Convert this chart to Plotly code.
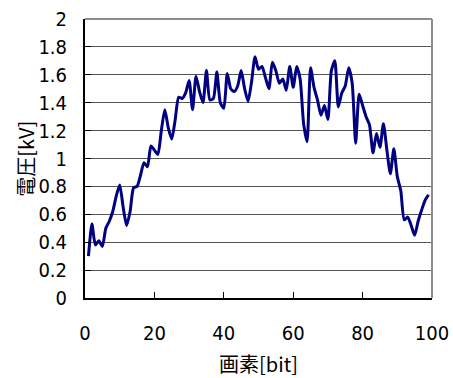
import plotly.graph_objects as go

# pixel index along the sensor line
pixels = list(range(1, 100))

# measured voltage per pixel [kV]
voltage = [
    0.30, 0.53, 0.38, 0.41, 0.37, 0.50, 0.55, 0.62, 0.73, 0.81,
    0.65, 0.52, 0.62, 0.79, 0.80, 0.88, 0.97, 0.94, 1.09, 1.06,
    1.03, 1.20, 1.35, 1.22, 1.14, 1.28, 1.44, 1.43, 1.47, 1.56,
    1.35, 1.59, 1.48, 1.40, 1.63, 1.42, 1.43, 1.62, 1.40, 1.36,
    1.61, 1.50, 1.48, 1.52, 1.63, 1.50, 1.41, 1.55, 1.73, 1.64,
    1.66, 1.58, 1.50, 1.69, 1.63, 1.54, 1.57, 1.49, 1.66, 1.51,
    1.66, 1.57, 1.25, 1.12, 1.65, 1.51, 1.42, 1.31, 1.38, 1.28,
    1.63, 1.70, 1.37, 1.47, 1.52, 1.65, 1.54, 1.11, 1.46, 1.38,
    1.30, 1.24, 1.04, 1.18, 1.08, 1.25, 1.06, 0.89, 1.07, 0.87,
    0.77, 0.56, 0.58, 0.52, 0.45, 0.55, 0.63, 0.70, 0.74,
]

x_ticks = [0, 20, 40, 60, 80, 100]
y_ticks = [0, 0.2, 0.4, 0.6, 0.8, 1, 1.2, 1.4, 1.6, 1.8, 2]
y_tick_text = ["0", "0.2", "0.4", "0.6", "0.8", "1", "1.2", "1.4", "1.6", "1.8", "2"]

FONT = "DejaVu Sans Condensed, Liberation Sans Narrow, Noto Sans CJK JP, sans-serif"
JP_FONT = "Noto Sans CJK JP, sans-serif"

fig = go.Figure()
fig.add_trace(go.Scatter(
    x=pixels, y=voltage, mode="lines",
    line=dict(color="#000080", width=3, shape="spline", smoothing=0.6),
    showlegend=False, hoverinfo="skip",
))

fig.update_layout(
    width=453, height=378,
    margin=dict(l=85, r=21, t=19, b=80),
    paper_bgcolor="white", plot_bgcolor="white",
    font=dict(family=FONT, size=19, color="black"),
    xaxis=dict(
        range=[0, 100], tickvals=x_ticks, ticktext=[str(v) for v in x_ticks],
        ticks="inside", ticklen=6, tickcolor="black", tickwidth=1,
        showline=True, linecolor="black", linewidth=2,
        showgrid=False, zeroline=False, automargin=False,
        ticklabelstandoff=16,
        title=dict(text="画素[bit]", font=dict(family=JP_FONT, size=20), standoff=18),
        tickfont=dict(size=20),
    ),
    yaxis=dict(
        range=[0, 2], tickvals=y_ticks, ticktext=y_tick_text,
        ticks="inside", ticklen=6, tickcolor="black", tickwidth=1,
        showline=True, linecolor="black", linewidth=2,
        showgrid=True, gridcolor="#555555", gridwidth=1,
        zeroline=False, automargin=False,
        ticklabelstandoff=12,
        tickfont=dict(size=20),
    ),
)

# vertical axis title
fig.add_annotation(
    text="電圧[kV]", textangle=-90, showarrow=False,
    xref="paper", yref="paper", x=-0.172, y=0.5,
    xanchor="center", yanchor="middle",
    font=dict(family=JP_FONT, size=20, color="black"),
)

# grey frame on the top and right of the plotting area
fig.add_shape(type="line", xref="x domain", yref="y domain",
              x0=0, x1=1, y0=1, y1=1, line=dict(color="#8c8c8c", width=2))
fig.add_shape(type="line", xref="x domain", yref="y domain",
              x0=1, x1=1, y0=0, y1=1, line=dict(color="#8c8c8c", width=2))

fig.write_html("out.html")
